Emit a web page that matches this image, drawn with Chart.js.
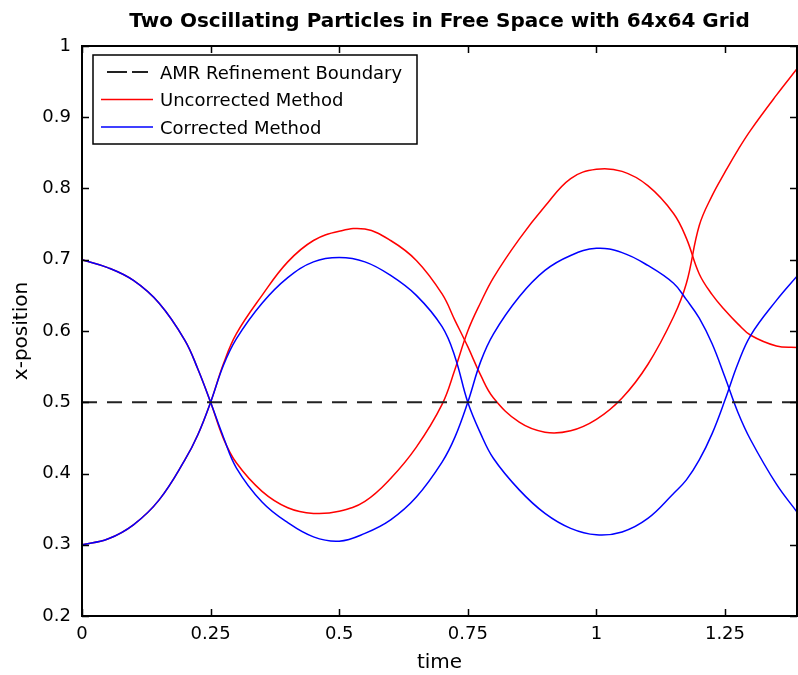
<!DOCTYPE html>
<html>
<head>
<meta charset="utf-8">
<script src="https://cdn.jsdelivr.net/npm/chart.js@4.4.1/dist/chart.umd.min.js"></script>
<style>
  html, body { margin: 0; padding: 0; background: #fff; }
  canvas { display: block; }
</style>
</head>
<body>
<canvas id="chart" width="798" height="675"></canvas>
<script>
// sample times
const times = [0, 0.05, 0.1, 0.15, 0.2, 0.225, 0.25, 0.275, 0.3, 0.35, 0.4, 0.45,
  0.5, 0.55, 0.6, 0.65, 0.7, 0.725, 0.75, 0.775, 0.8, 0.85, 0.9, 0.95,
  1.0, 1.05, 1.1, 1.15, 1.175, 1.2, 1.225, 1.25, 1.275, 1.3, 1.35, 1.39];

// corrected method, particle starting at 0.7
const blueFromHigh = [0.700, 0.689, 0.671, 0.639, 0.587, 0.547, 0.500, 0.451, 0.408, 0.360, 0.331, 0.311,
  0.305, 0.316, 0.335, 0.367, 0.416, 0.451, 0.500, 0.557, 0.596, 0.648, 0.685, 0.706,
  0.716, 0.710, 0.692, 0.667, 0.644, 0.618, 0.582, 0.535, 0.486, 0.447, 0.385, 0.346];
// corrected method, particle starting at 0.3
const blueFromLow = [0.300, 0.308, 0.328, 0.363, 0.419, 0.454, 0.500, 0.552, 0.589, 0.639, 0.675, 0.697,
  0.703, 0.697, 0.678, 0.650, 0.606, 0.564, 0.500, 0.456, 0.421, 0.377, 0.344, 0.323,
  0.314, 0.318, 0.337, 0.372, 0.391, 0.419, 0.456, 0.503, 0.554, 0.594, 0.643, 0.677];
// uncorrected method, particle starting at 0.3
const redFromLow = [0.300, 0.308, 0.328, 0.363, 0.419, 0.454, 0.500, 0.554, 0.596, 0.650, 0.697, 0.727,
  0.740, 0.743, 0.727, 0.699, 0.652, 0.615, 0.578, 0.538, 0.506, 0.472, 0.458, 0.460,
  0.476, 0.506, 0.553, 0.620, 0.667, 0.748, 0.790, 0.823, 0.854, 0.882, 0.931, 0.968];
// uncorrected method, particle starting at 0.7
const redFromHigh = [0.700, 0.689, 0.671, 0.639, 0.587, 0.547, 0.500, 0.449, 0.415, 0.375, 0.352, 0.344,
  0.347, 0.361, 0.393, 0.437, 0.497, 0.546, 0.600, 0.640, 0.675, 0.729, 0.775, 0.814,
  0.827, 0.824, 0.804, 0.765, 0.730, 0.680, 0.651, 0.629, 0.610, 0.594, 0.579, 0.577];

const boundaryTimes = [0, 1.39];
const boundaryValues = [0.5, 0.5];

const xTicks = [0, 0.25, 0.5, 0.75, 1, 1.25];
const yTicks = [0.2, 0.3, 0.4, 0.5, 0.6, 0.7, 0.8, 0.9, 1];

const FONT = "'DejaVu Sans'";

const pts = (xs, ys) => xs.map((t, i) => ({ x: t, y: ys[i] }));

// box round the plot, inward ticks, legend and title
const framePlugin = {
  id: 'frame',
  afterDatasetsDraw(chart) {
    const { ctx, chartArea: a, scales: { x, y } } = chart;
    ctx.save();
    ctx.strokeStyle = '#000';
    ctx.lineWidth = 2;
    ctx.setLineDash([]);
    ctx.strokeRect(a.left, a.top, a.right - a.left, a.bottom - a.top);

    ctx.lineWidth = 1.5;
    ctx.beginPath();
    xTicks.forEach(v => {
      const px = Math.round(x.getPixelForValue(v)) + 0.5;
      ctx.moveTo(px, a.bottom); ctx.lineTo(px, a.bottom - 7);
      ctx.moveTo(px, a.top); ctx.lineTo(px, a.top + 7);
    });
    yTicks.forEach(v => {
      const py = Math.round(y.getPixelForValue(v)) + 0.5;
      ctx.moveTo(a.left, py); ctx.lineTo(a.left + 7, py);
      ctx.moveTo(a.right, py); ctx.lineTo(a.right - 7, py);
    });
    ctx.stroke();

    // legend
    const entries = [];
    chart.data.datasets.forEach(ds => {
      if (!entries.find(e => e.label === ds.label)) entries.push(ds);
    });
    const lx = 93, ly = 55, lw = 324, lh = 89;
    ctx.fillStyle = '#fff';
    ctx.fillRect(lx, ly, lw, lh);
    ctx.lineWidth = 1.5;
    ctx.strokeStyle = '#000';
    ctx.strokeRect(lx, ly, lw, lh);
    ctx.font = `18px ${FONT}`;
    ctx.textAlign = 'left';
    ctx.textBaseline = 'alphabetic';
    entries.forEach((ds, i) => {
      const rowY = 72 + i * 27.5;
      ctx.strokeStyle = ds.borderColor;
      ctx.lineWidth = ds.borderWidth;
      ctx.beginPath();
      if (ds.borderDash) {
        ctx.setLineDash([20, 5]);
        ctx.moveTo(107, rowY); ctx.lineTo(148, rowY);
      } else {
        ctx.setLineDash([]);
        ctx.moveTo(101, rowY); ctx.lineTo(153, rowY);
      }
      ctx.stroke();
      ctx.fillStyle = '#000';
      ctx.fillText(ds.label, 160, rowY + 6.5);
    });
    ctx.setLineDash([]);

    // title
    ctx.font = `bold 20px ${FONT}`;
    ctx.textAlign = 'center';
    ctx.fillStyle = '#000';
    ctx.fillText('Two Oscillating Particles in Free Space with 64x64 Grid', (a.left + a.right) / 2, 27);
    ctx.restore();
  }
};

new Chart(document.getElementById('chart'), {
  type: 'line',
  data: {
    datasets: [
      {
        label: 'AMR Refinement Boundary',
        data: pts(boundaryTimes, boundaryValues),
        borderColor: '#222222',
        borderWidth: 2,
        borderDash: [15, 10],
        tension: 0,
        order: 0
      },
      {
        label: 'Uncorrected Method',
        data: pts(times, redFromLow),
        borderColor: '#ff0000',
        borderWidth: 1.5,
        order: 2
      },
      {
        label: 'Uncorrected Method',
        data: pts(times, redFromHigh),
        borderColor: '#ff0000',
        borderWidth: 1.5,
        order: 2
      },
      {
        label: 'Corrected Method',
        data: pts(times, blueFromHigh),
        borderColor: '#0000ff',
        borderWidth: 1.5,
        order: 1
      },
      {
        label: 'Corrected Method',
        data: pts(times, blueFromLow),
        borderColor: '#0000ff',
        borderWidth: 1.5,
        order: 1
      }
    ]
  },
  options: {
    animation: false,
    responsive: false,
    devicePixelRatio: 1,
    layout: { padding: { top: 46, right: 1, left: 0, bottom: 0 } },
    elements: {
      point: { radius: 0 },
      line: { tension: 0.4, fill: false }
    },
    plugins: {
      legend: { display: false },
      title: { display: false },
      tooltip: { enabled: false }
    },
    scales: {
      x: {
        type: 'linear',
        min: 0,
        max: 1.39,
        grid: { display: false, drawTicks: false },
        border: { display: false },
        afterBuildTicks: (s) => { s.ticks = xTicks.map(v => ({ value: v })); },
        afterFit: (s) => { s.height = 59; s.paddingLeft = 0; s.paddingRight = 0; },
        ticks: {
          color: '#000',
          font: { family: FONT, size: 18 },
          padding: 8,
          maxRotation: 0,
          autoSkip: false,
          callback: (v) => String(v)
        },
        title: {
          display: true,
          text: 'time',
          color: '#000',
          font: { family: FONT, size: 20 },
          padding: { top: 0, bottom: 0 }
        }
      },
      y: {
        min: 0.2,
        max: 1,
        grid: { display: false, drawTicks: false },
        border: { display: false },
        afterBuildTicks: (s) => { s.ticks = yTicks.map(v => ({ value: v })); },
        afterFit: (s) => { s.width = 82; s.paddingTop = 0; s.paddingBottom = 0; },
        ticks: {
          color: '#000',
          font: { family: FONT, size: 18 },
          padding: 11,
          autoSkip: false,
          callback: (v) => String(Number(v.toFixed(1)))
        },
        title: {
          display: true,
          text: 'x-position',
          color: '#000',
          font: { family: FONT, size: 20 },
          padding: { top: 10, bottom: 0 }
        }
      }
    }
  },
  plugins: [framePlugin]
});
</script>
</body>
</html>
